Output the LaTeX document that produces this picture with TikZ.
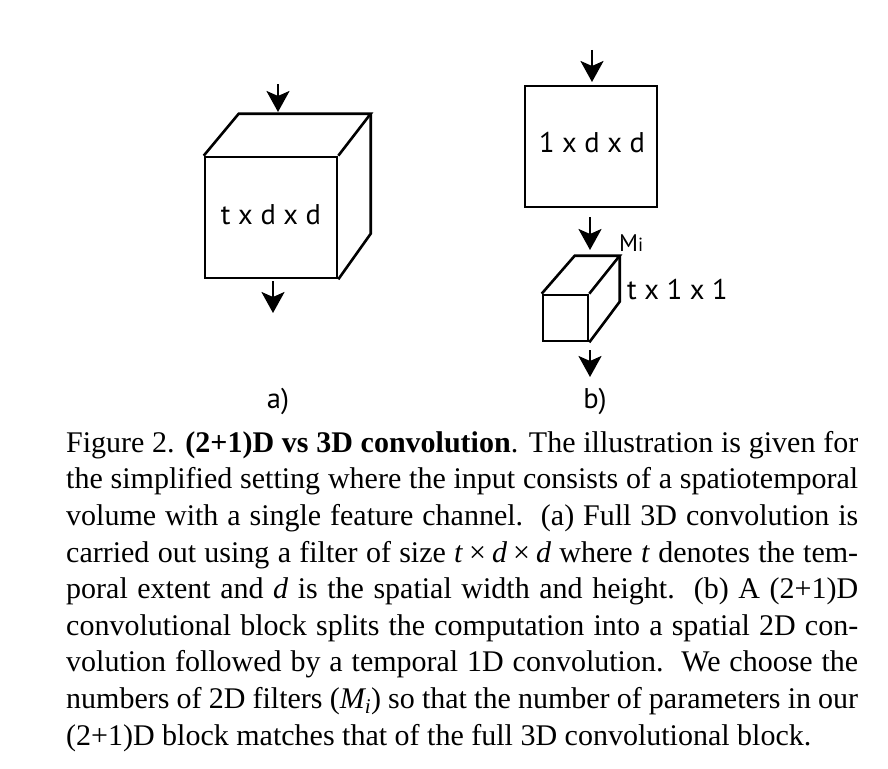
\documentclass[tikz,border=0pt]{standalone}
\usepackage{fontspec}
\setmainfont{Liberation Serif}
\newfontfamily\diagfont{PT Sans}
\usetikzlibrary{arrows.meta}
\tikzset{
  face/.style={draw, line width=2.6pt, inner sep=0pt, line join=miter},
  edge/.style={line width=2.6pt, line join=miter},
  flow/.style={line width=2.6pt, -{Stealth[length=21pt,width=23pt,inset=5pt]}},
  dlabel/.style={font=\diagfont\fontsize{28.5}{28.5}\selectfont, inner sep=0pt},
}
\begin{document}
\begin{tikzpicture}[x=1pt,y=-1pt]
\useasboundingbox (0,0) rectangle (888,768);
% ---- panel a: full 3D cube
\node[face, minimum width=132pt, minimum height=121pt] (fa) at (271,217.5) {};
\node[dlabel] (la) at (271,215) {t x d x d};
\draw[edge] (fa.north west) -- ++(35,-42) coordinate (atl) -- ++(132,0) coordinate (atr) -- (fa.north east);
\draw[edge] (atr) -- ++(0,120) coordinate (abr) -- (fa.south east);
\coordinate (ainS) at (278,84);
\coordinate (ainE) at (278,112);
\draw[flow] (ainS) -- (ainE);
\coordinate (aoutS) at (273,281);
\coordinate (aoutE) at (273,313);
\draw[flow] (aoutS) -- (aoutE);
\node[dlabel] (capa) at (278,401) {a)};
% ---- panel b: (2+1)D block
\node[face, minimum width=132pt, minimum height=121pt] (sq) at (591,146.5) {};
\node[dlabel] (lsq) at (592,143) {1 x d x d};
\coordinate (binS) at (592,50);
\coordinate (binE) at (592,82);
\draw[flow] (binS) -- (binE);
\coordinate (bmidS) at (590,217);
\coordinate (bmidE) at (590,250);
\draw[flow] (bmidS) -- (bmidE);
\node[font=\diagfont\fontsize{24}{24}\selectfont, inner sep=0pt, anchor=base west] (mi) at (619,251) {M{\fontsize{19}{19}\selectfont i}};
\node[face, minimum width=45pt, minimum height=46pt] (sb) at (565.5,318) {};
\draw[edge] (sb.north west) -- ++(33,-38) coordinate (btl) -- ++(45,0) coordinate (btr) -- (sb.north east);
\draw[edge] (btr) -- ++(0,46) coordinate (bbr) -- (sb.south east);
\node[dlabel, anchor=west] (lsb) at (627,290) {t x 1 x 1};
\coordinate (boutS) at (590,350);
\coordinate (boutE) at (590,377);
\draw[flow] (boutS) -- (boutE);
\node[dlabel] (capb) at (595,401) {b)};
% ---- caption
\node[anchor=north west, inner sep=0pt, text width=792pt, align=justify,
      font=\fontsize{30}{36.6}\selectfont] (cap) at (66,431) {%
Figure 2. \textbf{(2+1)D vs 3D convolution}. The illustration is given for\linebreak
the simplified setting where the input consists of a spatiotemporal\linebreak
volume with a single feature channel.\ \ (a) Full 3D convolution is\linebreak
carried out using a filter of size \textit{t}\hspace{0.2em}×\hspace{0.2em}\textit{d}\hspace{0.2em}×\hspace{0.2em}\textit{d} where \textit{t} denotes the tem-\linebreak
poral extent and \textit{d} is the spatial width and height.\ \ (b) A (2+1)D\linebreak
convolutional block splits the computation into a spatial 2D con-\linebreak
volution followed by a temporal 1D convolution.\ \ We choose the\linebreak
numbers of 2D filters (\textit{M\textsubscript{i}}) so that the number of parameters in our\linebreak
(2+1)D block matches that of the full 3D convolutional block.};
\end{tikzpicture}
\end{document}
